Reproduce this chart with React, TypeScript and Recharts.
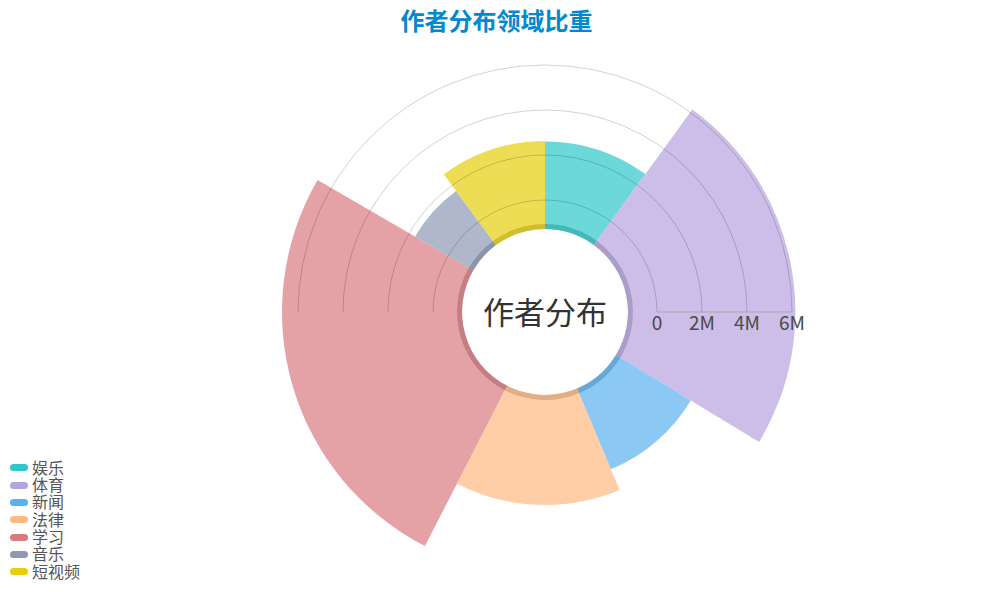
import React from 'react'
import {
  PieChart, Pie, Cell, Sector, RadarChart, Radar, PolarGrid, PolarAngleAxis, PolarRadiusAxis,
} from 'recharts'

const categories = ['娱乐', '体育', '新闻', '法律', '学习', '音乐', '短视频']
const authorCounts = [2600000, 6150000, 2600000, 3600000, 6710000, 1700000, 2620000]
const radiusTicks = [0, 2000000, 4000000, 6000000]

const colors = ['#2ec7c9', '#b6a2de', '#5ab1ef', '#ffb980', '#d87a80', '#8d98b3', '#e5cf0d']
const ringColors = ['#46b8ba', '#ab9dca', '#67a8d6', '#e2ae83', '#c57f83', '#8d95a9', '#cfbe2d']

const W = 993
const H = 592
const CX = 545
const CY = 312
const HOLE = 83
const RING = 88
const R0 = 112
const R1 = 263
const noMargin = { top: 0, right: 0, bottom: 0, left: 0 }
const font = '"Noto Sans CJK SC", "Noto Sans", sans-serif'

const data = categories.map((name, i) => ({ name, value: authorCounts[i] }))
const maxCount = Math.max(...authorCounts)

// rose layout: each sector's outer edge follows the radius axis scale
const roseRadius = (v: number) => R0 + (v / maxCount) * (R1 - R0)

const RoseSector = (props: any) => {
  const v = props.payload?.value ?? props.value
  return <Sector {...props} outerRadius={roseRadius(v)} />
}

const fmtM = (v: number) => (v === 0 ? '0' : `${v / 1000000}M`)

const AxisTick = (p: any) => (
  <text x={p.x} y={p.y + 18} textAnchor="middle" fontSize={19} fill="#4a4a4a" fontFamily={font}>
    {fmtM(p.payload.value)}
  </text>
)

// polar frame shared by the grid layer and the axis layer
const PolarFrame = ({ children }: { children: React.ReactNode }) => (
  <RadarChart width={W} height={H} data={data} cx={CX} cy={CY} innerRadius={R0} outerRadius={R1}
    startAngle={90} endAngle={-270} margin={noMargin}>
    {children}
    <PolarAngleAxis dataKey="name" tick={false} tickLine={false} axisLine={false} />
    <Radar dataKey="value" stroke="none" fill="none" dot={false} legendType="none" isAnimationActive={false} />
  </RadarChart>
)

export default function App() {
  return (
    <div style={{ position: 'absolute', left: 0, top: 0, width: W, height: H, background: '#fff', fontFamily: font }}>
      <div style={{
        position: 'absolute', left: 0, top: 7, width: W, textAlign: 'center',
        fontSize: 24, lineHeight: '26px', fontWeight: 700, color: '#008acd',
      }}>
        作者分布领域比重
      </div>

      <div style={{ position: 'absolute', left: 0, top: 0 }}>
        <PieChart width={W} height={H} margin={noMargin}>
          <Pie
            data={data} dataKey="value" nameKey="name" cx={CX} cy={CY}
            innerRadius={HOLE} outerRadius={R1} startAngle={90} endAngle={-270}
            stroke="none" isAnimationActive={false} shape={RoseSector}
          >
            {data.map((d, i) => <Cell key={d.name} fill={colors[i]} fillOpacity={0.7} />)}
          </Pie>
          <Pie
            data={data} dataKey="value" nameKey="name" cx={CX} cy={CY}
            innerRadius={HOLE} outerRadius={RING} startAngle={90} endAngle={-270}
            stroke="none" legendType="none" isAnimationActive={false}
          >
            {data.map((d, i) => <Cell key={d.name} fill={ringColors[i]} />)}
          </Pie>
        </PieChart>
      </div>

      <div style={{
        position: 'absolute', left: CX - 80, top: CY - 17, width: 160, textAlign: 'center',
        fontSize: 31, lineHeight: '31px', color: '#333',
      }}>
        作者分布
      </div>

      {/* split circles only show on the upper half */}
      <div style={{ position: 'absolute', left: 0, top: 0, width: W, height: CY, overflow: 'hidden' }}>
        <PolarFrame>
          <PolarGrid gridType="circle" radialLines={false} stroke="#000" strokeOpacity={0.18} />
          <PolarRadiusAxis type="number" domain={[0, maxCount]} ticks={radiusTicks} tick={false} axisLine={false} />
        </PolarFrame>
      </div>

      <div style={{ position: 'absolute', left: 0, top: 0 }}>
        <PolarFrame>
          <PolarRadiusAxis angle={0} type="number" domain={[0, maxCount]} ticks={radiusTicks}
            axisLine={{ stroke: '#aaa' }} tick={AxisTick} />
        </PolarFrame>
      </div>

      <div style={{ position: 'absolute', left: 10, top: 458 }}>
        {categories.map((c, i) => (
          <div key={c} style={{ display: 'flex', alignItems: 'center', height: 17.35 }}>
            <span style={{ width: 18, height: 7, borderRadius: 4, background: colors[i], marginRight: 4, marginTop: 2 }} />
            <span style={{ fontSize: 16, lineHeight: '16px', color: '#555' }}>{c}</span>
          </div>
        ))}
      </div>
    </div>
  )
}
